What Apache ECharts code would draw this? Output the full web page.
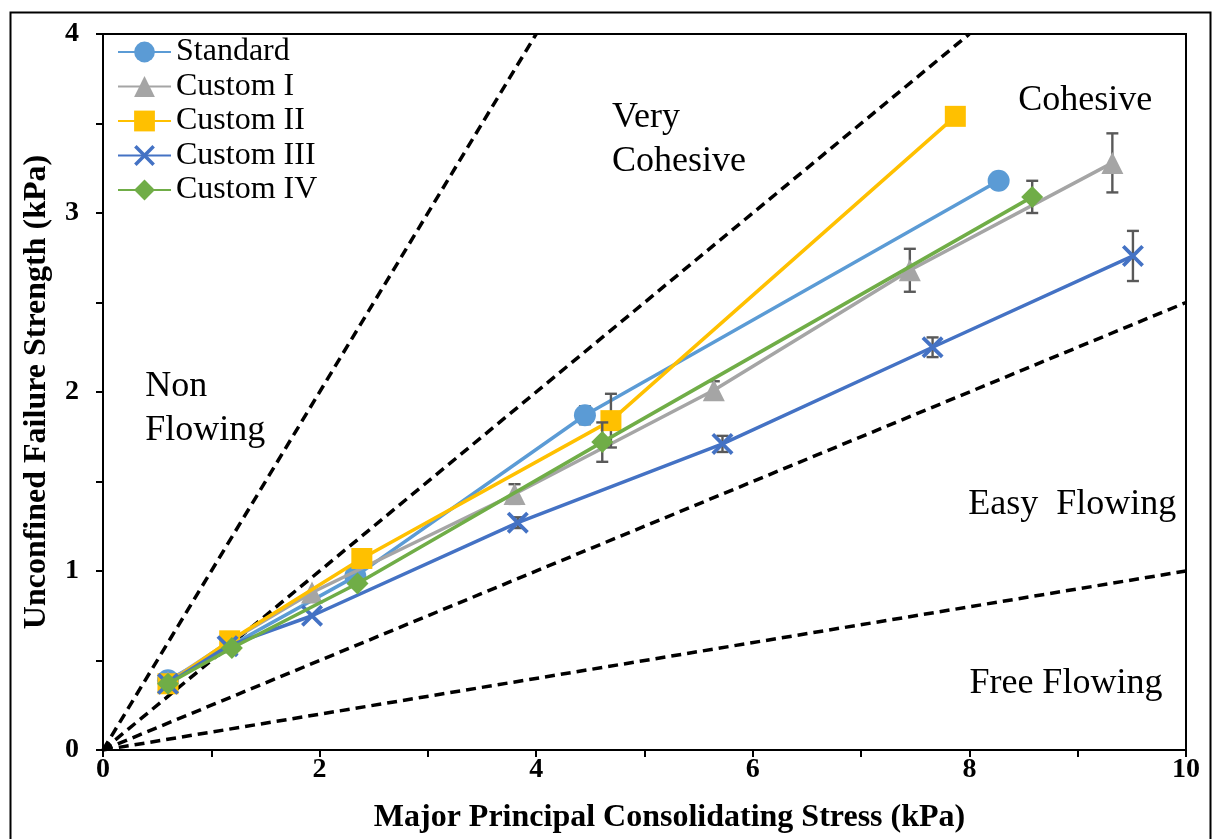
<!DOCTYPE html>
<html>
<head>
<meta charset="utf-8">
<script src="https://cdn.jsdelivr.net/npm/echarts@6/dist/echarts.min.js"></script>
<style>
html,body{margin:0;padding:0;background:#fff;}
#chart{width:1216px;height:839px;}
</style>
</head>
<body>
<div id="chart"></div>
<script>
// ---- data ----
const seriesNames = ['Standard', 'Custom I', 'Custom II', 'Custom III', 'Custom IV'];

const stdX = [0.6, 2.33, 4.45, 8.27];
const stdY = [0.39, 0.97, 1.87, 3.18];
const stdErr = [0, 0, 0.05, 0];

const c1X = [0.6, 1.15, 1.93, 3.8, 5.64, 7.45, 9.32];
const c1Y = [0.38, 0.60, 0.88, 1.43, 2.01, 2.68, 3.28];
const c1Err = [0, 0, 0, 0.055, 0.05, 0.12, 0.165];

const c2X = [0.6, 1.17, 2.39, 4.69, 7.87];
const c2Y = [0.37, 0.61, 1.07, 1.84, 3.54];
const c2Err = [0, 0, 0, 0.15, 0];

const c3X = [0.6, 1.15, 1.93, 3.83, 5.72, 7.66, 9.51];
const c3Y = [0.37, 0.58, 0.75, 1.27, 1.71, 2.25, 2.76];
const c3Err = [0, 0, 0, 0.03, 0.045, 0.055, 0.14];

const c4X = [0.6, 1.19, 2.35, 4.61, 8.58];
const c4Y = [0.37, 0.57, 0.93, 1.72, 3.09];
const c4Err = [0, 0, 0, 0.11, 0.09];

// flow-function boundary lines (ffc values)
const ffcValues = [1, 2, 4, 10];

const annoText = ['Non\nFlowing', 'Very\nCohesive', 'Cohesive', 'Easy  Flowing', 'Free Flowing'];
const annoX = [0.39, 4.7, 8.45, 7.99, 8.0];
const annoY = [1.91, 3.41, 3.63, 1.37, 0.37];

const xTicks = [0, 2, 4, 6, 8, 10];
const yTicks = [0, 1, 2, 3, 4];

const X_MAX = 10, Y_MAX = 4;

// ---- styling ----
const colors = ['#5B9BD5', '#A5A5A5', '#FFC000', '#4472C4', '#70AD47'];
const xPath = 'path://M0,1.2 L1.2,0 L5,3.8 L8.8,0 L10,1.2 L6.2,5 L10,8.8 L8.8,10 L5,6.2 L1.2,10 L0,8.8 L3.8,5 Z';
const symbols = ['circle', 'triangle', 'rect', xPath, 'diamond'];
const symbolSizes = [22, 22, 21, 22, 22];
const serif = '"Liberation Serif", "Times New Roman", serif';

const groups = [
  [stdX, stdY, stdErr],
  [c1X, c1Y, c1Err],
  [c2X, c2Y, c2Err],
  [c3X, c3Y, c3Err],
  [c4X, c4Y, c4Err]
];

const series = [];

// dashed boundary lines
ffcValues.forEach(function (f) {
  const xEnd = Math.min(X_MAX, Y_MAX * f);
  series.push({
    type: 'line',
    data: [[0, 0], [xEnd, xEnd / f]],
    symbol: 'none',
    silent: true,
    lineStyle: { color: '#000', width: 3.5, type: [10, 6] },
    z: 1
  });
});

groups.forEach(function (g, i) {
  const pts = g[0].map(function (x, k) { return [x, g[1][k]]; });
  const errs = [];
  g[0].forEach(function (x, k) {
    if (g[2][k] > 0) errs.push([x, g[1][k] - g[2][k], g[1][k] + g[2][k]]);
  });
  series.push({
    type: 'custom',
    silent: true,
    z: 3 + i * 2,
    data: errs,
    renderItem: function (params, api) {
      const p0 = api.coord([api.value(0), api.value(1)]);
      const p1 = api.coord([api.value(0), api.value(2)]);
      const hw = 6;
      const st = { stroke: '#595959', lineWidth: 2.4 };
      return {
        type: 'group',
        children: [
          { type: 'line', shape: { x1: p0[0], y1: p0[1], x2: p1[0], y2: p1[1] }, style: st },
          { type: 'line', shape: { x1: p0[0] - hw, y1: p0[1], x2: p0[0] + hw, y2: p0[1] }, style: st },
          { type: 'line', shape: { x1: p1[0] - hw, y1: p1[1], x2: p1[0] + hw, y2: p1[1] }, style: st }
        ]
      };
    }
  });
  series.push({
    name: seriesNames[i],
    type: 'line',
    data: pts,
    symbol: symbols[i],
    symbolSize: symbolSizes[i],
    showSymbol: true,
    z: 4 + i * 2,
    lineStyle: { color: colors[i], width: 3.5 },
    itemStyle: { color: colors[i], borderWidth: 0 },
    emphasis: { disabled: true }
  });
});

const chart = echarts.init(document.getElementById('chart'));
chart.setOption({
  animation: false,
  backgroundColor: '#fff',
  grid: {
    left: 103, right: 30, top: 34, bottom: 82,
    show: true, borderColor: '#000', borderWidth: 2, backgroundColor: 'transparent'
  },
  legend: {
    data: seriesNames,
    orient: 'vertical',
    left: 117,
    top: 36,
    padding: 0,
    itemWidth: 53,
    itemHeight: 26,
    itemGap: 2.5,
    textStyle: { fontFamily: serif, fontSize: 32, color: '#000', lineHeight: 30, padding: [0, 0, 0, 0] },
    selectedMode: false
  },
  xAxis: {
    type: 'value',
    min: 0, max: X_MAX, interval: 1,
    name: 'Major Principal Consolidating Stress (kPa)',
    nameLocation: 'middle',
    nameGap: 52,
    nameTextStyle: { fontFamily: serif, fontSize: 32, fontWeight: 'bold', color: '#000', padding: [0, 0, 0, 50] },
    axisLine: { show: true, lineStyle: { color: '#000', width: 2 } },
    axisTick: { show: true, inside: false, length: 7, lineStyle: { color: '#000', width: 2 } },
    axisLabel: {
      fontFamily: serif, fontSize: 28, fontWeight: 'bold', color: '#000', margin: 6,
      formatter: function (v) { return xTicks.indexOf(v) >= 0 ? String(v) : ''; }
    },
    splitLine: { show: false }
  },
  yAxis: {
    type: 'value',
    min: 0, max: Y_MAX, interval: 0.5,
    name: 'Unconfined Failure Strength (kPa)',
    nameLocation: 'middle',
    nameGap: 50,
    nameTextStyle: { fontFamily: serif, fontSize: 32, fontWeight: 'bold', color: '#000' },
    axisLine: { show: true, lineStyle: { color: '#000', width: 2 } },
    axisTick: { show: true, inside: false, length: 7, lineStyle: { color: '#000', width: 2 } },
    axisLabel: {
      fontFamily: serif, fontSize: 28, fontWeight: 'bold', color: '#000', margin: 24,
      formatter: function (v) { return yTicks.indexOf(v) >= 0 ? String(v) : ''; }
    },
    splitLine: { show: false }
  },
  series: series
});

// region annotations positioned through the axes' own scales
const graphics = [{
  type: 'rect',
  left: 8, top: 10,
  shape: { x: 0, y: 0, width: 1200, height: 840 },
  style: { fill: 'none', stroke: '#000', lineWidth: 2 },
  silent: true,
  z: -1
}];
annoText.forEach(function (t, k) {
  const p = chart.convertToPixel({ gridIndex: 0 }, [annoX[k], annoY[k]]);
  graphics.push({
    type: 'text',
    x: p[0], y: p[1],
    silent: true,
    z: 50,
    style: {
      text: t,
      fill: '#000',
      font: '36px ' + serif,
      lineHeight: 44,
      align: 'left',
      verticalAlign: 'middle'
    }
  });
});
chart.setOption({ graphic: graphics });
</script>
</body>
</html>
